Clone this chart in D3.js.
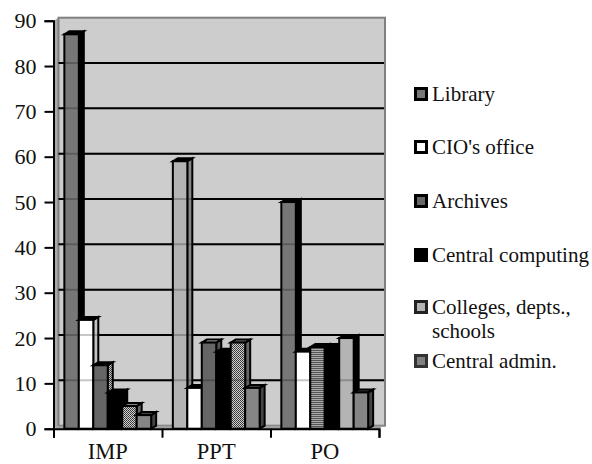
<!DOCTYPE html>
<html><head><meta charset="utf-8">
<script src="https://cdn.jsdelivr.net/npm/d3@7"></script>
<style>html,body{margin:0;padding:0;background:#fff}svg{display:block}text{font-family:"Liberation Serif",serif;fill:#111}</style>
</head><body><svg id="c" width="592" height="464"></svg>
<script>
const categories = ["IMP","PPT","PO"];
const seriesNames = ["Library","CIO's office","Archives","Central computing","Colleges, depts., schools","Central admin."];
const imp = [87,24,14,8,5,3];
const ppt = [59,9,19,17,19,9];
const po  = [50,17,18,18,20,8];
const yTicks = [0,10,20,30,40,50,60,70,80,90];
const looks = {
  mid:   {front:"#777", side:"#000", top:"#000"},
  white: {front:"#fff", side:"#c4c4c4", top:"#000"},
  dark:  {front:"#666", side:"url(#dots)", top:"#000"},
  black: {front:"#000", side:"#000", top:"#000"},
  dots:  {front:"url(#dots)", side:"#666", top:"#888"},
  admin: {front:"#858585", side:"#444", top:"#444"},
  light: {front:"#b4b4b4", side:"#888", top:"#000"},
  light2:{front:"#b4b4b4", side:"#000", top:"#000"},
  darkb: {front:"#666", side:"#555", top:"#ccc"},
  stripes:{front:"url(#stripes)", side:"#000", top:"#000"}
};
const impLooks = ["mid","white","dark","black","dots","admin"];
const pptLooks = ["light","white","darkb","black","dots","admin"];
const poLooks  = ["mid","white","stripes","black","light2","admin"];
const legendLooks = [["#777","#000"],["#fff","#000"],["#666","#000"],["#000","#000"],["#b4b4b4","#222"],["#808080","#333"]];

const svg = d3.select("#c");
const defs = svg.append("defs");
const dots = defs.append("pattern").attr("id","dots").attr("width",2).attr("height",2).attr("patternUnits","userSpaceOnUse");
dots.append("rect").attr("width",2).attr("height",2).attr("fill","#d0d0d0");
dots.append("rect").attr("width",1).attr("height",1).attr("fill","#333");
dots.append("rect").attr("x",1).attr("y",1).attr("width",1).attr("height",1).attr("fill","#444");
const stripes = defs.append("pattern").attr("id","stripes").attr("width",2).attr("height",2).attr("patternUnits","userSpaceOnUse");
stripes.append("rect").attr("width",2).attr("height",2).attr("fill","#aaa");
stripes.append("rect").attr("width",2).attr("height",1).attr("fill","#555");

const plotL=53.5, plotR=379, plotB=428.7, plotT=20.7, dx=5, dy=3;
const x = d3.scaleBand().domain(categories).range([plotL,plotR]);
const xSeries = d3.scaleBand().domain(seriesNames).range([0,x.bandwidth()]).paddingInner(0).paddingOuter(0.75);
const xEdge = d3.scaleLinear().domain([0,3]).range([plotL,plotR]);
const y = d3.scaleLinear().domain([0,90]).range([plotB,plotT]);

// walls
svg.append("path").attr("d",`M${plotL},${plotB}L${plotL+dx},${plotB-dy}L${plotL+dx},${plotT-dy}L${plotL},${plotT}Z`).attr("fill","#a9a9a9");
svg.append("rect").attr("x",plotL+dx).attr("y",plotT-dy).attr("width",plotR-plotL+1).attr("height",plotB-plotT).attr("fill","#cdcdcd").attr("stroke","#808080").attr("stroke-width",2);
svg.append("path").attr("d",`M${plotL},${plotB}L${plotL+dx},${plotB-dy}L${plotR+dx},${plotB-dy}L${plotR},${plotB}Z`).attr("fill","#a0a0a0");

const gridTicks = yTicks.filter(d=>d>0&&d<90);
const grid = (g,color,w) => g.selectAll("line").data(gridTicks).join("line")
  .attr("x1",plotL+dx).attr("x2",plotR+dx).attr("y1",d=>y(d)-dy).attr("y2",d=>y(d)-dy)
  .attr("stroke",color).attr("stroke-width",w);
svg.append("g").call(grid,"#000",2);

// bars
const rows = [imp,ppt,po], rowLooks=[impLooks,pptLooks,poLooks];
categories.forEach((c,ci)=>{
  const g = svg.append("g");
  seriesNames.forEach((s,si)=>{
    const v = rows[ci][si], lk = looks[rowLooks[ci][si]];
    const x0 = x(c)+xSeries(s), w = xSeries.bandwidth(), y0=y(v), yb=y(0);
    const e = g.append("g").attr("stroke","#000").attr("stroke-width",2).attr("stroke-linejoin","miter");
    e.append("path").attr("d",`M${x0+w},${y0}L${x0+w+dx},${y0-dy}L${x0+w+dx},${yb-dy}L${x0+w},${yb}Z`).attr("fill",lk.side);
    e.append("path").attr("d",`M${x0},${y0}L${x0+dx},${y0-dy}L${x0+w+dx},${y0-dy}L${x0+w},${y0}Z`).attr("fill",lk.top);
    e.append("rect").attr("x",x0).attr("y",y0).attr("width",w).attr("height",yb-y0).attr("fill",lk.front);
  });
});
svg.append("g").attr("opacity",0.22).call(grid,"#000",2);

// axes
const yAxis = d3.axisLeft(y).tickValues(yTicks).tickSize(9).tickPadding(8).tickFormat(d3.format("d"));
const ay = svg.append("g").attr("transform",`translate(${plotL},0)`).call(yAxis);
ay.selectAll("path,line").attr("stroke","#000").attr("stroke-width",2);
ay.selectAll("text").attr("font-size",22).style("font-family",'"Liberation Serif",serif').attr("fill","#111");

const edgeAxis = d3.axisBottom(xEdge).tickValues([0,1,2,3]).tickSize(9).tickFormat("");
const ae = svg.append("g").attr("transform",`translate(0,${plotB})`).call(edgeAxis);
ae.selectAll("path,line").attr("stroke","#000").attr("stroke-width",2);

const catAxis = d3.axisBottom(x).tickSize(0).tickPadding(14);
const ac = svg.append("g").attr("transform",`translate(0,${plotB})`).call(catAxis);
ac.select("path").remove();
ac.selectAll("text").attr("font-size",22.5).style("font-family",'"Liberation Serif",serif').attr("fill","#111");

// legend
const legendY = [94,147,201,255,307,361];
const legendLines = [["Library"],["CIO's office"],["Archives"],["Central computing"],["Colleges, depts.,","schools"],["Central admin."]];
const lg = svg.append("g").selectAll("g").data(seriesNames).join("g").attr("transform",(d,i)=>`translate(414,${legendY[i]})`);
lg.append("rect").attr("x",1.5).attr("y",-5.5).attr("width",11).attr("height",11)
  .attr("fill",(d,i)=>legendLooks[i][0]).attr("stroke",(d,i)=>legendLooks[i][1]).attr("stroke-width",3);
lg.each(function(d,i){
  d3.select(this).selectAll("text").data(legendLines[i]).join("text")
    .attr("x",18).attr("y",(t,j)=>7+j*24).attr("font-size",21).text(t=>t);
});
</script></body></html>
